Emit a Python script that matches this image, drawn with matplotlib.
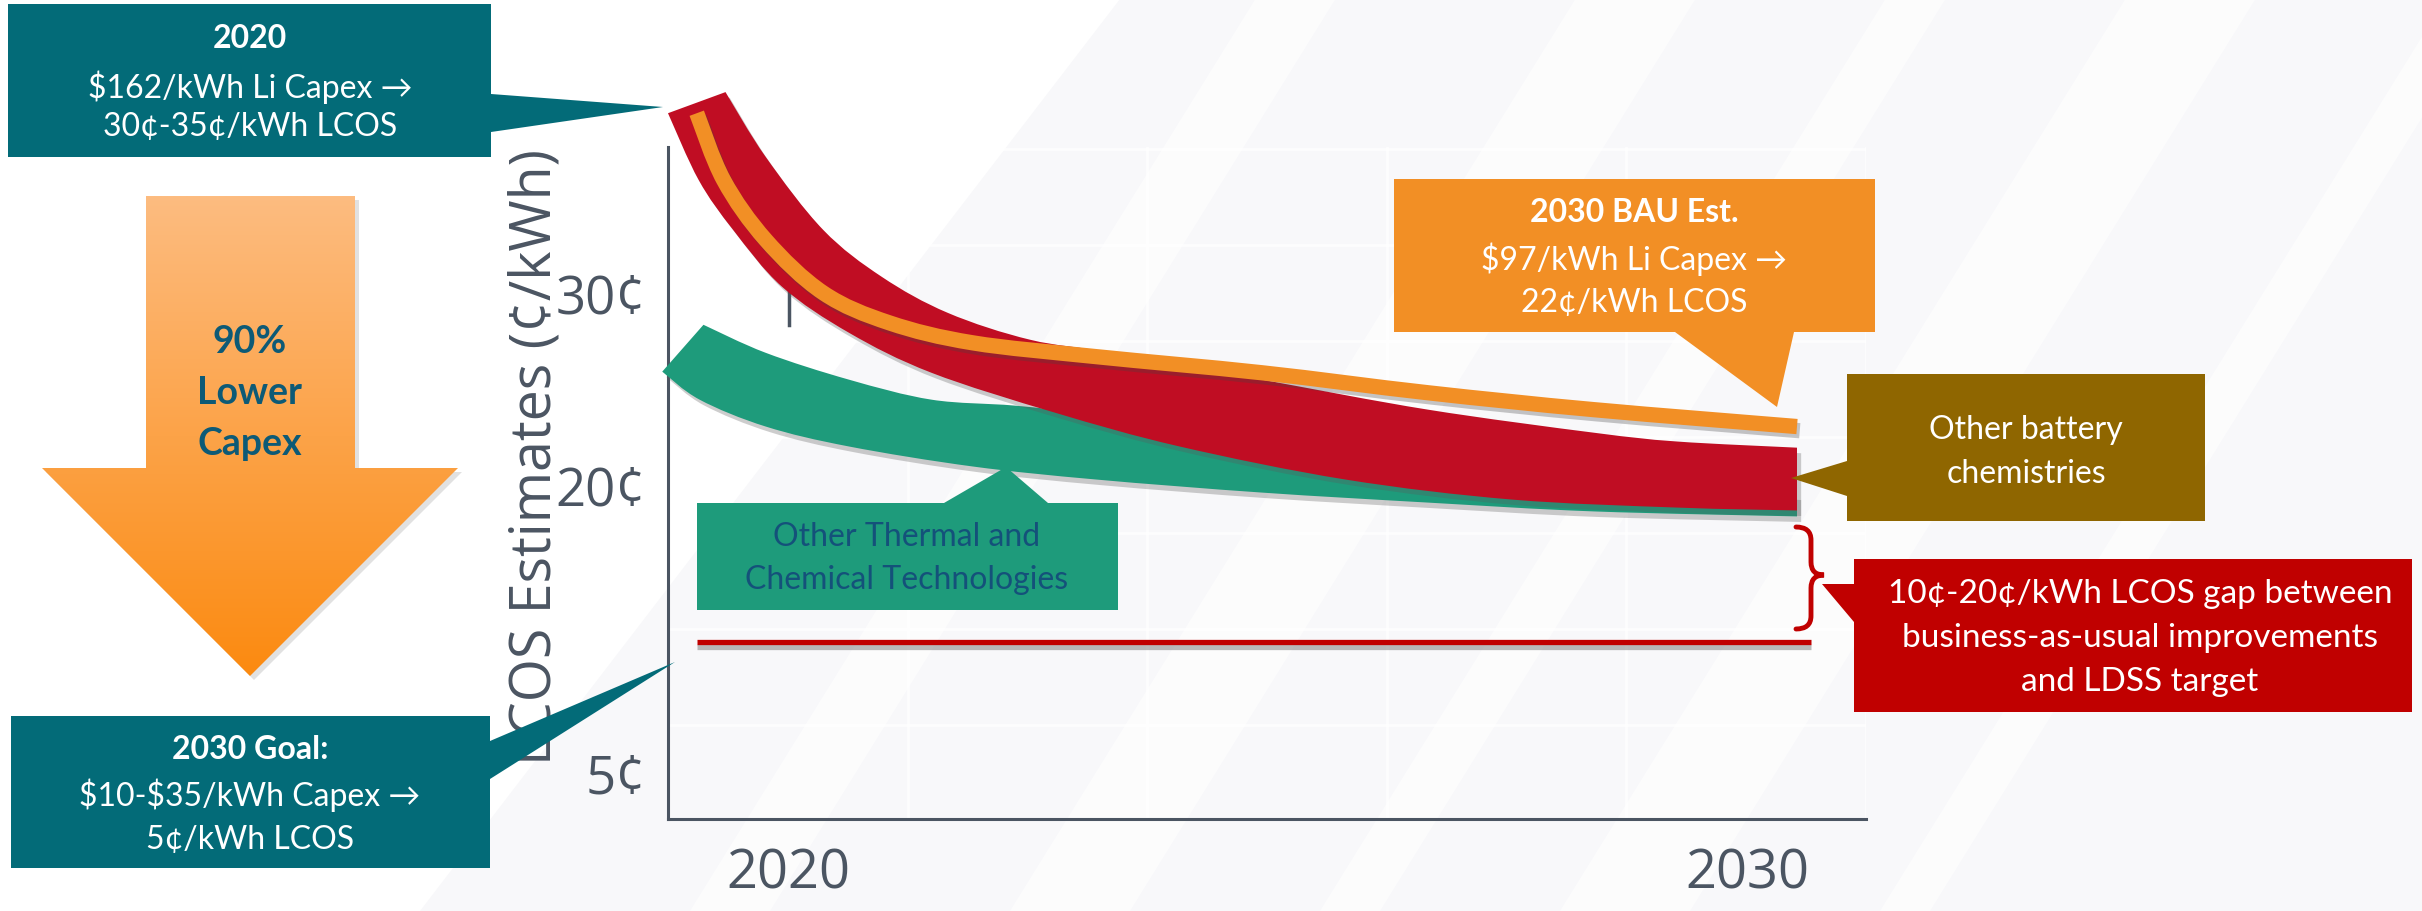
import numpy as np
import matplotlib
matplotlib.use("Agg")
import matplotlib.pyplot as plt
from matplotlib.patches import Polygon, PathPatch
from matplotlib.path import Path
from matplotlib.colors import LinearSegmentedColormap
import matplotlib.patheffects as pe

# ---------------- data (year, LCOS ¢/kWh) ----------------
li_upper_x = [2019.34, 2019.76, 2020.36, 2020.97, 2021.66, 2022.52, 2023.39, 2024.94, 2026.67, 2028.40, 2029.27, 2030.52]
li_upper_y = [40.44, 37.06, 33.26, 30.82, 28.94, 27.54, 26.86, 25.46, 23.90, 22.70, 22.24, 21.92]
li_lower_x = [2018.74, 2019.06, 2019.42, 2019.93, 2020.63, 2021.49, 2022.78, 2024.08, 2025.81, 2027.54, 2029.27, 2030.52]
li_lower_y = [39.34, 35.86, 33.26, 30.30, 27.90, 25.82, 23.74, 21.98, 20.26, 19.22, 18.80, 18.65]

bau_x = [2019.04, 2019.32, 2019.76, 2020.36, 2021.05, 2021.92, 2023.21, 2024.94, 2026.67, 2028.40, 2030.52]
bau_y = [39.34, 35.86, 32.74, 29.98, 28.42, 27.38, 26.66, 25.82, 24.78, 23.90, 23.02]

thermal_upper_x = [2019.11, 2019.76, 2020.63, 2021.49, 2022.36, 2023.21, 2024.94, 2026.67, 2028.40, 2030.52]
thermal_upper_y = [28.32, 26.86, 25.46, 24.42, 24.11, 23.64, 22.60, 21.30, 20.26, 19.48]
thermal_lower_x = [2018.68, 2019.07, 2019.76, 2020.63, 2021.92, 2023.21, 2024.94, 2026.67, 2028.40, 2030.52]
thermal_lower_y = [25.88, 24.42, 23.02, 21.98, 20.94, 20.26, 19.58, 19.06, 18.60, 18.34]

target_x = [2019.04, 2030.67]
target_y = [11.78, 11.78]

mark_x = [2020, 2020]
mark_y = [28.3, 30.2]

x_ticks = [2020, 2030]
x_ticklabels = ["2020", "2030"]
y_ticks = [5, 20, 30]
y_ticklabels = ["5¢", "20¢", "30¢"]
y_label = "LCOS Estimates (¢/kWh)"

box_2020 = ["2020", "\\$162/kWh Li Capex \u2192", "30¢-35¢/kWh LCOS"]
box_goal = ["2030 Goal:", "\\$10-\\$35/kWh Capex \u2192", "5¢/kWh LCOS"]
box_bau = ["2030 BAU Est.", "\\$97/kWh Li Capex \u2192", "22¢/kWh LCOS"]
box_other_batt = ["Other battery", "chemistries"]
box_thermal = ["Other Thermal and", "Chemical Technologies"]
box_gap = ["10¢-20¢/kWh LCOS gap between", "business-as-usual improvements", "and LDSS target"]
arrow_text = ["90%", "Lower", "Capex"]

# ---------------- styling ----------------
TEAL = "#036B78"
ORANGE = "#F28F25"
BROWN = "#8F6600"
RED_BOX = "#C00000"
LI_RED = "#C00D23"
GREEN = "#1E9B7B"
AXIS_GRAY = "#4B5562"
CALL_FONT = ["Lato", "DejaVu Sans"]
AX_FONT = ["Open Sans", "DejaVu Sans"]

W, H = 2422, 912
fig = plt.figure(figsize=(W / 100, H / 100), dpi=100, facecolor="#F8F8FA")


def px_axes(z):
    a = fig.add_axes([0, 0, 1, 1], zorder=z)
    a.set_xlim(0, W)
    a.set_ylim(H, 0)
    a.axis("off")
    a.patch.set_alpha(0)
    return a


# background decoration (faint diagonal light stripes)
bg = px_axes(0)
bg.add_patch(Polygon([(0, 0), (1120, 0), (420, H), (0, H)], closed=True, fc="white", ec="none"))
for xb, w in [(690, 80), (1010, 120), (1320, 60), (1560, 130), (1880, 50)]:
    dx = 0.62 * H
    bg.add_patch(Polygon([(xb, H), (xb + w, H), (xb + w + dx, 0), (xb + dx, 0)],
                         closed=True, fc="white", ec="none", alpha=0.6))

# ---------------- chart axes ----------------
L, R, T, B = 668, 1866, 148, 820
ax = fig.add_axes([L / W, 1 - B / H, (R - L) / W, (B - T) / H], zorder=1)
ax.patch.set_alpha(0)
ax.set_xlim(2018.74, 2031.23)
ax.set_ylim(2.58, 37.58)


def catmull_bezier(xs, ys):
    P = np.column_stack([xs, ys]).astype(float)
    n = len(P)
    verts = [P[0]]
    codes = [Path.MOVETO]
    for i in range(n - 1):
        p0 = P[i - 1] if i > 0 else P[i]
        p1 = P[i]
        p2 = P[i + 1]
        p3 = P[i + 2] if i + 2 < n else P[i + 1]
        verts += [p1 + (p2 - p0) / 6.0, p2 - (p3 - p1) / 6.0, p2]
        codes += [Path.CURVE4] * 3
    return verts, codes


def band_path(ux, uy, lx, ly):
    v1, c1 = catmull_bezier(ux, uy)
    v2, c2 = catmull_bezier(lx[::-1], ly[::-1])
    verts = v1 + v2 + [v1[0]]
    codes = c1 + [Path.LINETO] + c2[1:] + [Path.CLOSEPOLY]
    return Path(verts, codes)


band_shadow = [pe.SimplePatchShadow(offset=(3, -4), shadow_rgbFace="#5a5a5a", alpha=0.3), pe.Normal()]

thermal = PathPatch(band_path(thermal_upper_x, thermal_upper_y, thermal_lower_x, thermal_lower_y),
                    fc=GREEN, ec="none", zorder=3, clip_on=False, path_effects=band_shadow)
ax.add_patch(thermal)

li = PathPatch(band_path(li_upper_x, li_upper_y, li_lower_x, li_lower_y),
               fc=LI_RED, ec="none", zorder=4, clip_on=False, path_effects=band_shadow)
ax.add_patch(li)

bv, bc = catmull_bezier(bau_x, bau_y)
bau = PathPatch(Path(bv, bc), fill=False, ec=ORANGE, lw=11, capstyle="butt", joinstyle="round",
                zorder=5, clip_on=False,
                path_effects=[pe.SimpleLineShadow(offset=(2, -3), shadow_color="#444444", alpha=0.3),
                              pe.Normal()])
ax.add_patch(bau)

ax.plot(target_x, target_y, color="#C00000", lw=3.8, solid_capstyle="butt", zorder=3,
        path_effects=[pe.SimpleLineShadow(offset=(0, -3.5), shadow_color="#777777", alpha=0.5),
                      pe.Normal()])

ax.plot(mark_x, mark_y, color=AXIS_GRAY, lw=2.5, zorder=3)

for s in ["top", "right"]:
    ax.spines[s].set_visible(False)
for s in ["left", "bottom"]:
    ax.spines[s].set_color(AXIS_GRAY)
    ax.spines[s].set_linewidth(2.2)

ax.set_xticks(x_ticks)
ax.set_xticklabels(x_ticklabels, fontsize=39, color=AXIS_GRAY, family=AX_FONT)
ax.set_yticks(y_ticks)
ax.set_yticklabels(y_ticklabels, fontsize=38, color=AXIS_GRAY, family=AX_FONT)
ax.tick_params(axis="x", length=0, pad=19)
ax.tick_params(axis="y", length=0, pad=16)

ax.set_xticks(np.arange(2018.74 + 2.5, 2031.3, 2.5), minor=True)
ax.set_yticks(np.arange(7.5, 37.6, 5.0), minor=True)
ax.tick_params(which="minor", length=0)
ax.set_axisbelow(True)
ax.grid(which="minor", color="white", lw=2.0, alpha=0.8)
ax.grid(which="major", visible=False)

ax.set_ylabel(y_label, fontsize=40, color=AXIS_GRAY, family=AX_FONT)
ax.yaxis.set_label_coords(-0.086, 0.54)

# ---------------- overlay: callouts, arrow, brace ----------------
ov = px_axes(2)


def callout(verts, color):
    ov.add_patch(Polygon(verts, closed=True, fc=color, ec="none", zorder=2))


def txt(x, y, s, size=24, color="white", weight="normal"):
    ov.text(x, y, s, ha="center", va="center", fontsize=size, color=color,
            fontweight=weight, family=CALL_FONT, zorder=5)


# top-left 2020 box
callout([(8, 5), (491, 5), (491, 95), (663, 108), (491, 133), (491, 158), (8, 158)], TEAL)
for (s, yy, wt) in zip(box_2020, [38, 87, 127], ["bold", "normal", "normal"]):
    txt(250, yy, s, 23, "white", wt)

# bottom-left goal box
callout([(11, 717), (490, 717), (490, 742), (675, 663), (490, 780), (490, 869), (11, 869)], TEAL)
for (s, yy, wt) in zip(box_goal, [750, 795, 840], ["bold", "normal", "normal"]):
    txt(250, yy, s, 23, "white", wt)

# green thermal box
callout([(697, 504), (944, 504), (1006, 468), (1048, 504), (1118, 504), (1118, 611), (697, 611)], GREEN)
for (s, yy) in zip(box_thermal, [537, 580]):
    txt(907, yy, s, 23, "#14517A")

# orange BAU box
callout([(1394, 180), (1875, 180), (1875, 333), (1794, 333), (1777, 408), (1675, 333), (1394, 333)], ORANGE)
for (s, yy, wt) in zip(box_bau, [213, 259, 303], ["bold", "normal", "normal"]):
    txt(1634, yy, s, 23, "white", wt)

# brown other-battery box
callout([(1847, 375), (2205, 375), (2205, 522), (1847, 522), (1847, 497), (1791, 479), (1847, 462)], BROWN)
for (s, yy) in zip(box_other_batt, [430, 474]):
    txt(2026, yy, s, 23)

# red gap box
callout([(1854, 560), (2412, 560), (2412, 713), (1854, 713), (1854, 623), (1822, 585), (1854, 585)], RED_BOX)
for (s, yy) in zip(box_gap, [594, 638, 682]):
    txt(2140, yy, s, 24)

# brace
x0, x1, x2 = 1796, 1811, 1824
yt, ym, yb = 528, 576, 630
r = 13
brace = Path([(x0, yt), (x1, yt), (x1, yt + r), (x1, ym - r), (x1, ym), (x2, ym),
              (x1, ym), (x1, ym + r), (x1, yb - r), (x1, yb), (x0, yb)],
             [Path.MOVETO, Path.CURVE3, Path.CURVE3, Path.LINETO, Path.CURVE3, Path.CURVE3,
              Path.CURVE3, Path.CURVE3, Path.LINETO, Path.CURVE3, Path.CURVE3])
ov.add_patch(PathPatch(brace, fill=False, ec="#C00000", lw=3.5, capstyle="round", zorder=3))

# big gradient arrow
arrow_verts = [(146, 197), (355, 197), (355, 469), (458, 469), (250, 677), (42, 469), (146, 469)]
shadow = Polygon([(x + 4, y + 4) for x, y in arrow_verts], closed=True, fc="#888888", ec="none",
                 alpha=0.25, zorder=1)
ov.add_patch(shadow)
arrow_poly = Polygon(arrow_verts, closed=True, fc="none", ec="none", zorder=1)
ov.add_patch(arrow_poly)
cmap = LinearSegmentedColormap.from_list("arr", ["#FDBC80", "#FB8A10"])
grad = np.linspace(0, 1, 256).reshape(-1, 1)
im = ov.imshow(grad, extent=[42, 458, 677, 197], cmap=cmap, aspect="auto",
               interpolation="bilinear", zorder=2)
im.set_clip_path(arrow_poly)
ov.set_xlim(0, W)
ov.set_ylim(H, 0)
for (s, yy) in zip(arrow_text, [342, 393, 444]):
    txt(250, yy, s, 27, "#0D5A76", "bold")

fig.savefig("out.png", dpi=100, facecolor=fig.get_facecolor())
